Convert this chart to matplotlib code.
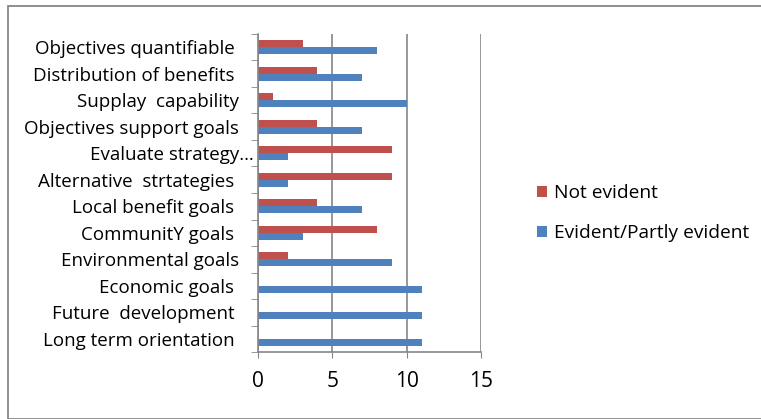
import numpy as np
import matplotlib
matplotlib.use('Agg')
import matplotlib.pyplot as plt
import matplotlib.transforms as mtransforms
from matplotlib.patches import Rectangle

# categories listed bottom to top, as in the chart
categories = ['Long term orientation ', 'Future  development ', 'Economic goals ',
              'Environmental goals', 'CommunitY goals ', 'Local benefit goals ',
              'Alternative  strtategies ', 'Evaluate strategy…', 'Objectives support goals',
              'Supplay  capability', 'Distribution of benefits ', 'Objectives quantifiable ']
evident = [11, 11, 11, 9, 3, 7, 2, 2, 7, 10, 7, 8]
not_evident = [0, 0, 0, 2, 8, 4, 9, 9, 4, 1, 4, 3]
xticks = [0, 5, 10, 15]

blue = '#4f81bd'
red = '#c0504d'
grey = '#868686'

W, H = 761, 419
fig = plt.figure(figsize=(W / 100, H / 100), dpi=100)
plt.rcParams['font.family'] = ['Open Sans', 'DejaVu Sans']

# outer chart frame
fig.patches.append(Rectangle((8 / W, 0.5 / H), 1.0, (H - 6.5) / H, transform=fig.transFigure,
                             fill=False, edgecolor=grey, linewidth=1.3))

ax = fig.add_axes([258 / W, 1 - 352 / H, (481 - 258) / W, (352 - 34) / H])

y = np.arange(len(categories))
h = 0.27
ax.barh(y - h / 2, evident, height=h, color=blue, label='Evident/Partly evident')
ax.barh(y + h / 2, not_evident, height=h, color=red, label='Not evident')

ax.set_xlim(0, 15)
ax.set_ylim(-0.5, len(categories) - 0.5)
ax.set_xticks(xticks)
ax.set_xticklabels([str(t) for t in xticks], fontsize=15)
ax.set_yticks(y)
ax.set_yticklabels(categories, fontsize=13.5)
ax.set_yticks(np.arange(-0.5, len(categories), 1), minor=True)
ax.tick_params(axis='y', which='major', length=0, pad=13.5)
ax.tick_params(axis='y', which='minor', length=5, color=grey)
ax.tick_params(axis='x', length=4, color=grey, pad=10)

# the truncated label runs closer to the axis
for lab in ax.get_yticklabels():
    if lab.get_text().endswith('…'):
        lab.set_transform(lab.get_transform() + mtransforms.ScaledTranslation(15 / 100, 0, fig.dpi_scale_trans))

ax.grid(axis='x', color=grey, linewidth=1.2)
ax.set_axisbelow(True)
for s in ['top', 'right']:
    ax.spines[s].set_visible(False)
for s in ['left', 'bottom']:
    ax.spines[s].set_color(grey)
    ax.spines[s].set_linewidth(1.2)

handles, labels = ax.get_legend_handles_labels()
fig.legend(handles[::-1], labels[::-1], loc='upper left', bbox_to_anchor=(520 / W, 1 - 167 / H),
           frameon=False, fontsize=13.8, handlelength=0.5, handleheight=0.5,
           handletextpad=0.35, labelspacing=1.15)

fig.savefig('out.png', dpi=100)
